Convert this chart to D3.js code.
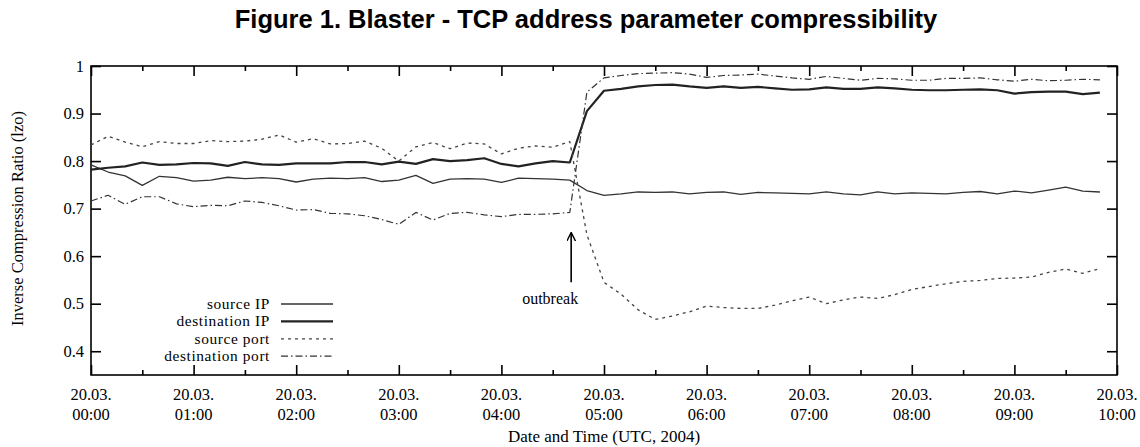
<!DOCTYPE html>
<html>
<head>
<meta charset="utf-8">
<script src="https://cdn.jsdelivr.net/npm/d3@7"></script>
<style>
  html, body { margin: 0; padding: 0; background: #fff; }
  svg { display: block; }
  .serif { font-family: "Liberation Serif", "DejaVu Serif", serif; }
</style>
</head>
<body>
<svg id="chart" width="1140" height="447"></svg>
<script>
// Sample times in hours after 20.03.2004 00:00 UTC (10-minute intervals)
const hours = d3.range(60).map(k => k / 6);

const sourceIP = [
  0.792, 0.777, 0.769, 0.749, 0.768, 0.765, 0.758, 0.760, 0.766, 0.763,
  0.765, 0.763, 0.756, 0.762, 0.764, 0.763, 0.765, 0.757, 0.760, 0.770,
  0.753, 0.762, 0.763, 0.762, 0.755, 0.764, 0.763, 0.762, 0.760, 0.738,
  0.728, 0.731, 0.735, 0.734, 0.735, 0.731, 0.734, 0.735, 0.730, 0.734,
  0.733, 0.732, 0.731, 0.735, 0.731, 0.729, 0.735, 0.731, 0.733, 0.732,
  0.731, 0.734, 0.736, 0.731, 0.737, 0.733, 0.739, 0.745, 0.737, 0.735
];

const destinationIP = [
  0.782, 0.786, 0.789, 0.797, 0.792, 0.793, 0.796, 0.795, 0.790, 0.798,
  0.793, 0.792, 0.795, 0.795, 0.795, 0.798, 0.798, 0.793, 0.799, 0.794,
  0.804, 0.800, 0.802, 0.806, 0.794, 0.789, 0.795, 0.800, 0.797, 0.905,
  0.948, 0.952, 0.957, 0.960, 0.961, 0.957, 0.954, 0.957, 0.954, 0.956,
  0.953, 0.950, 0.951, 0.955, 0.952, 0.952, 0.955, 0.953, 0.950, 0.949,
  0.949, 0.950, 0.951, 0.949, 0.942, 0.945, 0.946, 0.946, 0.941, 0.944
];

const sourcePort = [
  0.834, 0.852, 0.840, 0.830, 0.841, 0.837, 0.837, 0.843, 0.841, 0.842,
  0.846, 0.855, 0.840, 0.847, 0.836, 0.837, 0.842, 0.827, 0.800, 0.830,
  0.839, 0.826, 0.838, 0.836, 0.815, 0.827, 0.832, 0.829, 0.841, 0.645,
  0.545, 0.520, 0.487, 0.467, 0.474, 0.483, 0.495, 0.492, 0.490, 0.490,
  0.497, 0.506, 0.514, 0.500, 0.508, 0.514, 0.511, 0.519, 0.530, 0.536,
  0.542, 0.547, 0.549, 0.553, 0.554, 0.556, 0.566, 0.573, 0.564, 0.574
];

const destinationPort = [
  0.716, 0.728, 0.709, 0.725, 0.725, 0.710, 0.704, 0.707, 0.706, 0.716,
  0.713, 0.706, 0.697, 0.698, 0.690, 0.689, 0.685, 0.677, 0.667, 0.692,
  0.676, 0.690, 0.692, 0.687, 0.683, 0.688, 0.688, 0.689, 0.692, 0.945,
  0.975, 0.980, 0.984, 0.985, 0.986, 0.983, 0.976, 0.980, 0.981, 0.983,
  0.979, 0.975, 0.972, 0.978, 0.974, 0.970, 0.974, 0.973, 0.970, 0.970,
  0.974, 0.974, 0.975, 0.971, 0.968, 0.972, 0.969, 0.970, 0.972, 0.971
];

const seriesNames = ["source IP", "destination IP", "source port", "destination port"];
const xTickHours = d3.range(0, 11);
const xTickLabels = ["00:00", "01:00", "02:00", "03:00", "04:00", "05:00",
                     "06:00", "07:00", "08:00", "09:00", "10:00"];
const xTickDate = "20.03.";
const yTicks = [0.4, 0.5, 0.6, 0.7, 0.8, 0.9, 1];
const outbreakHour = 4.68;

const svg = d3.select("#chart");
const plotLeft = 91, plotRight = 1117, plotTop = 66, plotBottom = 375;

const x = d3.scaleLinear().domain([0, 10]).range([plotLeft, plotRight]);
const y = d3.scaleLinear().domain([0.35, 1]).range([plotBottom, plotTop]);

// Title
svg.append("text")
  .attr("x", 586).attr("y", 28)
  .attr("text-anchor", "middle")
  .style("font-family", "'Liberation Sans', Arial, sans-serif")
  .style("font-weight", "bold")
  .style("font-size", "25.5px")
  .text("Figure 1. Blaster - TCP address parameter compressibility");

// Axes: gnuplot-style inward ticks on all four sides
const minorHours = d3.range(0.5, 10, 1);
function styleAxis(g) {
  g.select(".domain").remove();
  g.selectAll("line").attr("stroke", "#000").attr("stroke-width", 1.6);
  g.selectAll("text").remove();
}
svg.append("g").attr("transform", `translate(0,${plotBottom})`)
  .call(d3.axisBottom(x).tickValues(xTickHours).tickSize(-10).tickFormat(""))
  .call(styleAxis);
svg.append("g").attr("transform", `translate(0,${plotBottom})`)
  .call(d3.axisBottom(x).tickValues(minorHours).tickSize(-5).tickFormat(""))
  .call(styleAxis);
svg.append("g").attr("transform", `translate(0,${plotTop})`)
  .call(d3.axisTop(x).tickValues(xTickHours).tickSize(-10).tickFormat(""))
  .call(styleAxis);
svg.append("g").attr("transform", `translate(0,${plotTop})`)
  .call(d3.axisTop(x).tickValues(minorHours).tickSize(-5).tickFormat(""))
  .call(styleAxis);
svg.append("g").attr("transform", `translate(${plotLeft},0)`)
  .call(d3.axisLeft(y).tickValues(yTicks).tickSize(-10).tickFormat(""))
  .call(styleAxis);
svg.append("g").attr("transform", `translate(${plotRight},0)`)
  .call(d3.axisRight(y).tickValues(yTicks).tickSize(-10).tickFormat(""))
  .call(styleAxis);

// Frame
svg.append("rect")
  .attr("x", plotLeft).attr("y", plotTop)
  .attr("width", plotRight - plotLeft).attr("height", plotBottom - plotTop)
  .attr("fill", "none").attr("stroke", "#000").attr("stroke-width", 1.6);

// Y tick labels
svg.append("g").selectAll("text").data(yTicks).join("text")
  .attr("class", "serif")
  .attr("x", plotLeft - 7).attr("y", d => y(d) + 5.5)
  .attr("text-anchor", "end")
  .style("font-size", "16.5px")
  .text(d => d === 1 ? "1" : d.toFixed(1));

// X tick labels (two lines)
const xl = svg.append("g").selectAll("g").data(xTickHours).join("g");
xl.append("text").attr("class", "serif")
  .attr("x", d => x(d)).attr("y", 400)
  .attr("text-anchor", "middle").style("font-size", "16.5px")
  .text(xTickDate);
xl.append("text").attr("class", "serif")
  .attr("x", d => x(d)).attr("y", 420)
  .attr("text-anchor", "middle").style("font-size", "16.5px")
  .text((d, i) => xTickLabels[i]);

// Axis titles
svg.append("text").attr("class", "serif")
  .attr("x", 604).attr("y", 442)
  .attr("text-anchor", "middle").style("font-size", "17px")
  .text("Date and Time (UTC, 2004)");
svg.append("text").attr("class", "serif")
  .attr("transform", `translate(23,${(plotTop + plotBottom) / 2 - 2}) rotate(-90)`)
  .attr("text-anchor", "middle").style("font-size", "16.5px")
  .text("Inverse Compression Ratio (lzo)");

// Series lines
const styles = [
  { data: sourceIP, width: 1.3, dash: null, color: "#333" },
  { data: destinationIP, width: 2.2, dash: null, color: "#222" },
  { data: sourcePort, width: 1.3, dash: "3,4", color: "#444" },
  { data: destinationPort, width: 1.2, dash: "7,3,1.5,3", color: "#333" }
];
const line = d3.line().x((d, i) => x(hours[i])).y(d => y(d));
svg.append("g").selectAll("path").data(styles).join("path")
  .attr("d", s => line(s.data))
  .attr("fill", "none")
  .attr("stroke", s => s.color)
  .attr("stroke-width", s => s.width)
  .attr("stroke-dasharray", s => s.dash)
  .attr("stroke-linejoin", "round");

// Legend
const legend = svg.append("g");
const legendRows = legend.selectAll("g").data(styles).join("g")
  .attr("transform", (s, i) => `translate(0,${304 + i * 17.4})`);
legendRows.append("text").attr("class", "serif")
  .attr("x", 270).attr("y", 5)
  .attr("text-anchor", "end")
  .style("font-size", "15.4px")
  .style("letter-spacing", "0.6px")
  .text((s, i) => seriesNames[i]);
legendRows.append("line")
  .attr("x1", 281).attr("x2", 333).attr("y1", 0).attr("y2", 0)
  .attr("stroke", s => s.color)
  .attr("stroke-width", s => s.width)
  .attr("stroke-dasharray", s => s.dash);

// Outbreak annotation
svg.append("defs").append("marker")
  .attr("id", "arrowhead").attr("viewBox", "0 0 10 10")
  .attr("refX", 9).attr("refY", 5)
  .attr("markerWidth", 9).attr("markerHeight", 9)
  .attr("markerUnits", "userSpaceOnUse")
  .attr("orient", "auto")
  .append("path").attr("d", "M0,0 L10,5 L0,10").attr("fill", "none")
  .attr("stroke", "#000").attr("stroke-width", 1.6);
svg.append("line")
  .attr("x1", x(outbreakHour)).attr("x2", x(outbreakHour))
  .attr("y1", y(0.545)).attr("y2", y(0.648))
  .attr("stroke", "#000").attr("stroke-width", 1.6)
  .attr("marker-end", "url(#arrowhead)");
svg.append("text").attr("class", "serif")
  .attr("x", x(outbreakHour) - 21).attr("y", y(0.50))
  .attr("text-anchor", "middle").style("font-size", "16px")
  .text("outbreak");
</script>
</body>
</html>
